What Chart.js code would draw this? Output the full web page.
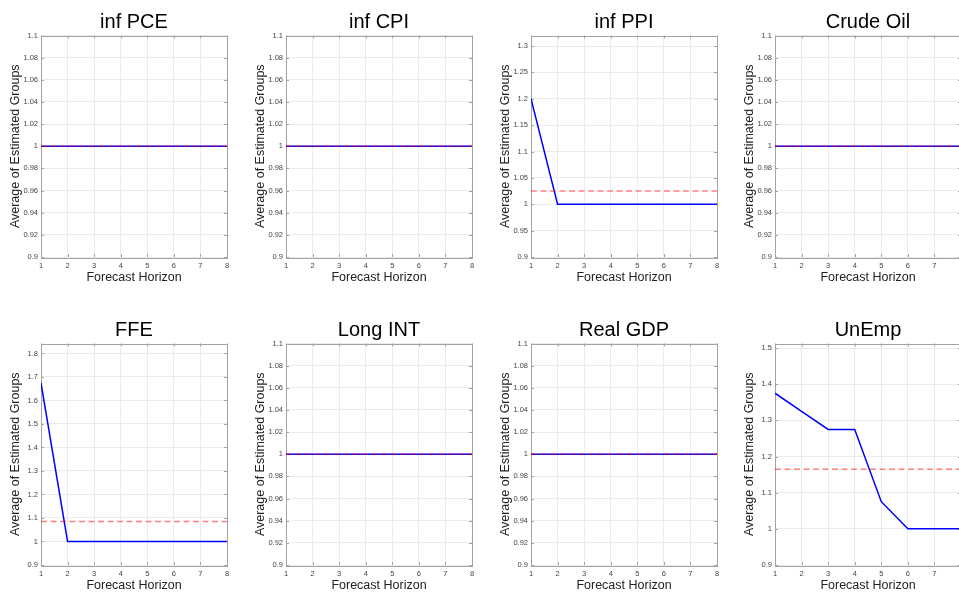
<!DOCTYPE html>
<html>
<head>
<meta charset="utf-8">
<script src="https://cdn.jsdelivr.net/npm/chart.js@4.4.1/dist/chart.umd.min.js"></script>
<style>
  html, body { margin: 0; padding: 0; background: #fff; overflow: hidden; }
  #grid { position: relative; width: 959px; height: 593px; overflow: hidden; }
  #grid canvas { position: absolute; }
</style>
</head>
<body>
<div id="grid"></div>
<script>
// forecast horizons on the x axis
const horizons = [1, 2, 3, 4, 5, 6, 7, 8];

// average number of estimated groups, per variable
const grpPCE    = [1, 1, 1, 1, 1, 1, 1, 1];
const grpCPI    = [1, 1, 1, 1, 1, 1, 1, 1];
const grpPPI    = [1.2, 1, 1, 1, 1, 1, 1, 1];
const grpOil    = [1, 1, 1, 1, 1, 1, 1, 1];
const grpFFE    = [1.675, 1, 1, 1, 1, 1, 1, 1];
const grpLong   = [1, 1, 1, 1, 1, 1, 1, 1];
const grpGDP    = [1, 1, 1, 1, 1, 1, 1, 1];
const grpUnEmp  = [1.375, 1.325, 1.275, 1.275, 1.075, 1, 1, 1];

// mean over all horizons (dashed reference line)
const meanPCE = 1, meanCPI = 1, meanPPI = 1.025, meanOil = 1;
const meanFFE = 1.085, meanLong = 1, meanGDP = 1, meanUnEmp = 1.165;

// y tick labels
const ticksFlat  = [0.9, 0.92, 0.94, 0.96, 0.98, 1, 1.02, 1.04, 1.06, 1.08, 1.1];
const ticksPPI   = [0.9, 0.95, 1, 1.05, 1.1, 1.15, 1.2, 1.25, 1.3];
const ticksFFE   = [0.9, 1, 1.1, 1.2, 1.3, 1.4, 1.5, 1.6, 1.7, 1.8];
const ticksUnEmp = [0.9, 1, 1.1, 1.2, 1.3, 1.4, 1.5];

const panels = [
  { title: 'inf PCE',   groups: grpPCE,   mean: meanPCE,   ticks: ticksFlat,  yMax: 1.1 },
  { title: 'inf CPI',   groups: grpCPI,   mean: meanCPI,   ticks: ticksFlat,  yMax: 1.1 },
  { title: 'inf PPI',   groups: grpPPI,   mean: meanPPI,   ticks: ticksPPI,   yMax: 1.32 },
  { title: 'Crude Oil', groups: grpOil,   mean: meanOil,   ticks: ticksFlat,  yMax: 1.1 },
  { title: 'FFE',       groups: grpFFE,   mean: meanFFE,   ticks: ticksFFE,   yMax: 1.8425 },
  { title: 'Long INT',  groups: grpLong,  mean: meanLong,  ticks: ticksFlat,  yMax: 1.1 },
  { title: 'Real GDP',  groups: grpGDP,   mean: meanGDP,   ticks: ticksFlat,  yMax: 1.1 },
  { title: 'UnEmp',     groups: grpUnEmp, mean: meanUnEmp, ticks: ticksUnEmp, yMax: 1.5125 }
];

const colLeft = [0, 245, 490, 734];
const rowTop = [0, 308];
const FONT = '"Liberation Sans", Helvetica, Arial, sans-serif';
const FRAME = '#a3a3a3';

// matlab-like box around the plot area with small inward ticks
const boxFrame = {
  id: 'boxFrame',
  beforeDatasetsDraw(chart) {
    const { ctx, chartArea: a, scales } = chart;
    ctx.save();
    ctx.strokeStyle = FRAME;
    ctx.lineWidth = 1;
    ctx.beginPath();
    scales.y.ticks.forEach(t => {
      const py = Math.round(scales.y.getPixelForValue(t.value)) + 0.5;
      ctx.moveTo(a.left, py); ctx.lineTo(a.left + 3, py);
      ctx.moveTo(a.right, py); ctx.lineTo(a.right - 3, py);
    });
    scales.x.ticks.forEach(t => {
      const px = Math.round(scales.x.getPixelForValue(t.value)) + 0.5;
      ctx.moveTo(px, a.bottom); ctx.lineTo(px, a.bottom - 3);
      ctx.moveTo(px, a.top); ctx.lineTo(px, a.top + 3);
    });
    ctx.stroke();
    ctx.strokeRect(Math.round(a.left) + 0.5, Math.round(a.top) + 0.5,
                   Math.round(a.right - a.left), Math.round(a.bottom - a.top));
    ctx.restore();
  }
};

function makePanel(p, i) {
  const canvas = document.createElement('canvas');
  canvas.width = 235;
  canvas.height = 290;
  canvas.style.left = colLeft[i % 4] + 'px';
  canvas.style.top = rowTop[Math.floor(i / 4)] + 'px';
  document.getElementById('grid').appendChild(canvas);

  new Chart(canvas.getContext('2d'), {
    type: 'line',
    data: {
      datasets: [
        {
          data: [{ x: horizons[0], y: p.mean }, { x: horizons[horizons.length - 1], y: p.mean }],
          borderColor: 'rgba(255, 0, 0, 0.5)',
          borderWidth: 1.5,
          borderDash: [6, 3.5],
          pointRadius: 0,
          tension: 0
        },
        {
          data: horizons.map((h, k) => ({ x: h, y: p.groups[k] })),
          borderColor: '#0000ff',
          borderWidth: 1.5,
          pointRadius: 0,
          tension: 0
        }
      ]
    },
    options: {
      responsive: false,
      animation: false,
      devicePixelRatio: 1,
      layout: { padding: { right: 8 } },
      plugins: {
        legend: { display: false },
        tooltip: { enabled: false },
        title: {
          display: true,
          fullSize: false,
          text: p.title,
          color: '#000',
          font: { family: FONT, size: 20, weight: 'normal' },
          padding: { top: 10, bottom: 1.5 }
        }
      },
      scales: {
        x: {
          type: 'linear',
          min: 1, max: 8,
          afterBuildTicks: s => { s.ticks = horizons.map(v => ({ value: v })); },
          afterFit: s => { s.height = 33; },
          grid: { color: '#ebebeb', drawTicks: false },
          border: { display: false },
          ticks: { color: '#444', padding: 4, maxRotation: 0, font: { family: FONT, size: 7.5 } },
          title: {
            display: true,
            text: 'Forecast Horizon',
            color: '#222',
            font: { family: FONT, size: 12.5 },
            padding: { top: 0, bottom: 4.5 }
          }
        },
        y: {
          min: 0.9, max: p.yMax,
          afterBuildTicks: s => { s.ticks = p.ticks.map(v => ({ value: v })); },
          afterFit: s => { s.width = 41; },
          grid: { color: '#ebebeb', drawTicks: false },
          border: { display: false },
          ticks: {
            color: '#444', padding: 3,
            font: { family: FONT, size: 7.5 },
            callback: v => String(+v.toFixed(4))
          },
          title: {
            display: true,
            text: 'Average of Estimated Groups',
            color: '#222',
            font: { family: FONT, size: 12.5 },
            padding: { top: 8, bottom: 0 }
          }
        }
      }
    },
    plugins: [boxFrame]
  });
}

panels.forEach(makePanel);
</script>
</body>
</html>
